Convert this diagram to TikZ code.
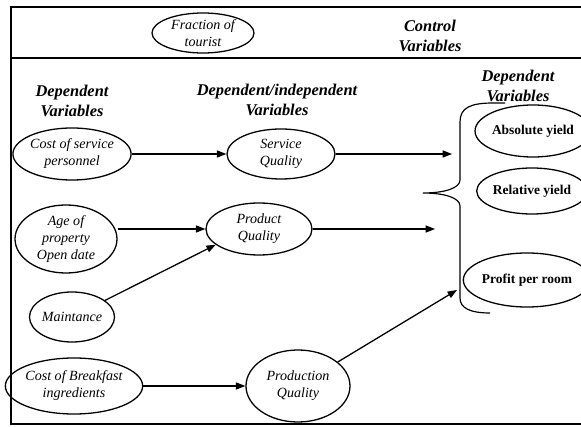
\documentclass[tikz,border=0pt]{standalone}
\usepackage{fontspec}
\setmainfont{Liberation Serif}
\usetikzlibrary{arrows.meta,shapes.geometric}

\begin{document}
\begin{tikzpicture}[
  x=0.03cm, y=-0.03cm,
  var/.style={draw, ellipse, line width=1.1pt, inner sep=0pt, align=center, font=\fontsize{12}{14.5}\selectfont\itshape},
  outcome/.style={draw, ellipse, line width=1.1pt, inner sep=0pt, align=center, font=\fontsize{11.5}{13}\selectfont\bfseries},
  heading/.style={align=center, font=\fontsize{14}{17}\selectfont\bfseries\itshape},
  arrow/.style={-{Triangle[length=8pt,width=6pt]}, line width=1.1pt}
]
\useasboundingbox (0,0) rectangle (581,427);
\draw[line width=1.6pt] (581,7) -- (11,7) -- (11,424) -- (581,424);
\draw[line width=1pt] (11,58) -- (581,58);

\node[var, minimum width=3.06cm, minimum height=1.2cm] (ft) at (203,33) {Fraction of\\tourist};
\node[heading] (hc) at (430,36) {Control\\Variables};
\node[heading] (hl) at (72,101) {Dependent\\Variables};
\node[heading] (hm) at (277,100) {Dependent/independent\\Variables};
\node[heading] (hr) at (518,86) {Dependent\\Variables};

\node[var, minimum width=3.42cm, minimum height=1.56cm] (cs) at (72,154) {Cost of service\\personnel};
\node[var, minimum width=3.06cm, minimum height=2.04cm] (age) at (66,239) {Age of\\property\\Open date};
\node[var, minimum width=2.34cm, minimum height=1.5cm] (mt) at (72,317) {Maintance};
\node[var, minimum width=3.72cm, minimum height=1.68cm] (cb) at (74,386) {Cost of Breakfast\\ingredients};

\node[var, minimum width=3.24cm, minimum height=1.5cm] (sq) at (281,154) {Service\\Quality};
\node[var, minimum width=3.18cm, minimum height=1.56cm] (pq) at (259,229) {Product\\Quality};
\node[var, minimum width=3.12cm, minimum height=2.16cm] (pn) at (298,386) {Production\\Quality};

\node[outcome, minimum width=3.0cm, minimum height=1.56cm] (ay) at (533,131) {Absolute yield};
\node[outcome, minimum width=3.0cm, minimum height=1.38cm] (ry) at (532,191) {Relative yield};
\node[outcome, minimum width=3.3cm, minimum height=1.62cm] (pr) at (527,280) {Profit per room};

\draw[line width=1pt] (505,103) -- (493,103) .. controls (470,103) and (460,108) .. (460,122)
  -- (460,180) .. controls (460,188) and (445,193) .. (423,193)
  .. controls (445,193) and (460,198) .. (460,206)
  -- (460,298) .. controls (460,308) and (470,313) .. (490,313);

\coordinate (in1) at (452,154);
\coordinate (in2) at (435,229);
\coordinate (in3) at (457,290);

\draw[arrow] (cs.east) -- (sq.west);
\draw[arrow] (age.east |- pq) -- (pq.west);
\draw[arrow] (mt) -- (pq.200);
\draw[arrow] (cb.east) -- (pn.west);
\draw[arrow] (sq.east) -- (in1);
\draw[arrow] (pq.east) -- (in2);
\draw[arrow] (pn) -- (in3);
\end{tikzpicture}
\end{document}
